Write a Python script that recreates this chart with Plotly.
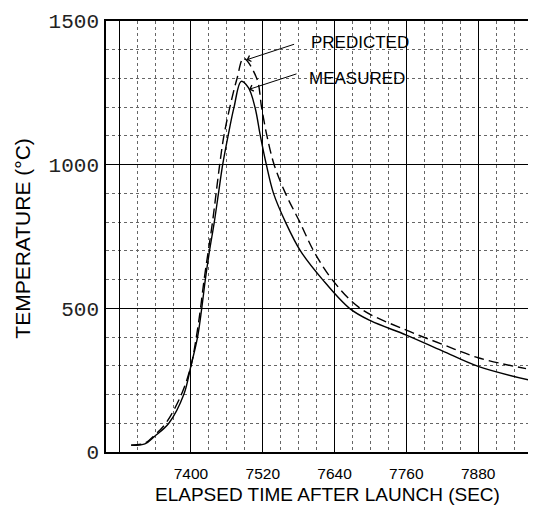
import plotly.graph_objects as go

# ---- data ----
measured_time = [7300, 7323, 7339, 7363, 7388, 7400, 7411, 7418, 7424, 7431, 7439, 7446, 7453,
                 7462, 7472, 7484, 7496, 7507, 7516, 7526, 7538, 7558, 7583, 7620, 7665,
                 7700, 7760, 7820, 7880, 7970]
measured_temp = [24, 28, 54, 100, 200, 300, 400, 500, 600, 700, 800, 900, 1000,
                 1100, 1200, 1290, 1268, 1200, 1100, 1000, 900, 800, 700, 600, 500,
                 457, 407, 352, 298, 248]

predicted_time = [7300, 7322, 7340, 7358, 7384, 7400, 7409, 7416, 7422, 7429, 7436, 7442, 7448,
                  7455, 7465, 7477, 7488, 7510, 7518, 7527, 7539, 7558, 7582, 7605, 7636,
                  7683, 7760, 7820, 7880, 7960]
predicted_temp = [24, 30, 60, 100, 200, 300, 400, 500, 600, 700, 800, 900, 1000,
                  1100, 1200, 1300, 1370, 1300, 1200, 1100, 1000, 900, 800, 700, 600,
                  500, 424, 375, 328, 290]

x_tick_vals = [7280, 7400, 7520, 7640, 7760, 7880]
x_tick_text = ["", "7400", "7520", "7640", "7760", "7880"]
y_tick_vals = [0, 500, 1000, 1500]
y_tick_text = ["0", "500", "1000", "1500"]

x_title = "ELAPSED TIME AFTER LAUNCH (SEC)"
y_title = "TEMPERATURE (°C)"

fig = go.Figure()
fig.add_trace(go.Scatter(x=predicted_time, y=predicted_temp, mode="lines",
                         line=dict(color="black", width=1.4, dash="10px,5px", shape="spline", smoothing=1.0),
                         name="PREDICTED", showlegend=False))
fig.add_trace(go.Scatter(x=measured_time, y=measured_temp, mode="lines",
                         line=dict(color="black", width=1.4, shape="spline", smoothing=1.0),
                         name="MEASURED", showlegend=False))

sans = "Liberation Sans, Arial, sans-serif"

fig.update_xaxes(range=[7258, 7970], tickmode="array", tickvals=x_tick_vals, ticktext=x_tick_text,
                 showgrid=True, gridcolor="black", gridwidth=1.4,
                 showline=True, linecolor="black", linewidth=1.6, mirror=True,
                 ticks="", ticklabelstandoff=7, zeroline=False,
                 tickfont=dict(family=sans, size=15.5, color="black"),
                 minor=dict(tick0=7280, dtick=30, showgrid=True, gridcolor="#666",
                            griddash="dot", gridwidth=1))
fig.update_yaxes(range=[0, 1500], tickmode="array", tickvals=y_tick_vals, ticktext=y_tick_text,
                 showgrid=True, gridcolor="black", gridwidth=1.4,
                 showline=True, linecolor="black", linewidth=1.6, mirror=True,
                 ticks="", ticklabelstandoff=1, zeroline=False,
                 tickfont=dict(family="Liberation Mono, monospace", size=21, color="#222"),
                 minor=dict(tick0=0, dtick=100, showgrid=True, gridcolor="#666",
                            griddash="dot", gridwidth=1))

annots = [
    dict(x=0.519, y=-0.098, xref="paper", yref="paper", text=x_title, showarrow=False,
         font=dict(family=sans, size=19, color="black"), xanchor="center", yanchor="middle"),
    dict(x=-0.198, y=0.4965, xref="paper", yref="paper", text=y_title, showarrow=False, textangle=-90,
         font=dict(family=sans, size=21, color="black"), xanchor="center", yanchor="middle"),
    dict(x=0.4766, y=0.949, xref="paper", yref="paper", text="PREDICTED", showarrow=False,
         font=dict(family=sans, size=17, color="black"), xanchor="left", yanchor="middle"),
    dict(x=0.472, y=0.8677, xref="paper", yref="paper", text="MEASURED", showarrow=False,
         font=dict(family=sans, size=17, color="black"), xanchor="left", yanchor="middle"),
    dict(x=7493, y=1365, xref="x", yref="y", text=" ", showarrow=True, ax=49, ay=-16,
         arrowhead=4, arrowsize=1.2, arrowwidth=1, arrowcolor="black", font=dict(size=1)),
    dict(x=7497, y=1262, xref="x", yref="y", text=" ", showarrow=True, ax=49, ay=-16,
         arrowhead=4, arrowsize=1.2, arrowwidth=1, arrowcolor="black", font=dict(size=1)),
]

# page body has an 8px default margin: size the figure so it fits the 536x517 window
fig.update_layout(width=528, height=509, margin=dict(l=98, r=2, t=13, b=65),
                  paper_bgcolor="white", plot_bgcolor="white", annotations=annots,
                  showlegend=False)

fig.write_html("out.html")
